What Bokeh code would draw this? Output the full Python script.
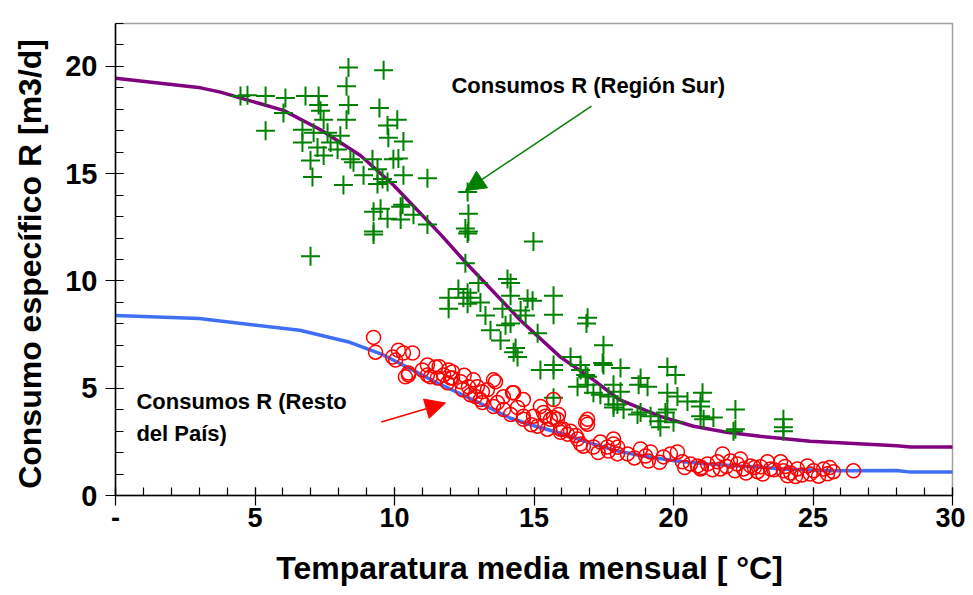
from bokeh.plotting import figure
from bokeh.models import Range1d, FixedTicker, Arrow, NormalHead, Label
from bokeh.embed import file_html
from bokeh.resources import INLINE

# ---- data ----
x_ticks = [0, 5, 10, 15, 20, 25, 30]
x_minor = list(range(0, 31))
y_ticks = [0, 5, 10, 15, 20]
y_minor = list(range(0, 23))

# fitted curve, Región Sur (purple)
sur_x = [0, 3.05, 3.76, 6.02, 7.35, 8.78, 9.96, 11.65, 12.61, 14.52, 15.95, 17.13,
         18.06, 19.53, 20.72, 21.9, 23.1, 24.9, 28.0, 28.5, 30.4]
sur_y = [19.45, 19.0, 18.8, 17.95, 17.05, 15.85, 14.47, 12.17, 10.78, 8.16, 6.45, 5.39,
         4.47, 3.69, 3.23, 2.95, 2.76, 2.53, 2.32, 2.26, 2.26]

# fitted curve, Resto del País (blue)
resto_x = [0, 3.0, 6.6, 8.4, 9.6, 10.57, 11.6, 12.72, 14.16, 15.0, 15.95, 17.13, 18.0,
           18.9, 20.1, 21.2, 22.8, 23.9, 25.7, 28.0, 28.5, 30.4]
resto_y = [8.39, 8.25, 7.70, 7.14, 6.55, 5.9, 5.2, 4.52, 3.6, 3.25, 2.9, 2.4, 2.07,
           1.84, 1.61, 1.47, 1.34, 1.24, 1.15, 1.17, 1.09, 1.09]

# observed consumption, Región Sur (green crosses)
sur_obs_x = [4.48, 4.73, 5.38, 6.09, 6.81, 7.28, 8.35, 9.61, 8.28, 8.35, 7.28, 7.35, 6.02, 9.46,
             10.1, 9.75, 8.28, 7.46, 5.38, 6.70, 7.10, 7.60, 8.06, 9.78, 10.32, 6.70, 7.24, 7.71,
             7.96, 7.46, 6.99, 8.42, 8.53, 9.21, 9.96, 10.14, 9.39, 8.89, 7.06, 9.57, 10.32, 11.18,
             9.75, 8.17, 9.39, 9.50, 10.22, 9.25, 9.75, 10.68, 10.22, 11.18, 9.25, 9.25, 6.99,
             12.62, 12.65, 12.54, 12.65, 12.62, 14.98, 10.29, 12.54, 14.05, 14.16, 13.01, 12.29,
             12.62, 11.94, 12.47, 12.72, 14.16, 14.77, 14.95, 15.7, 11.94, 12.62, 13.08, 13.26,
             13.87, 15.7, 16.92, 14.16, 14.27, 14.41, 14.34, 15.13, 15.23, 15.7, 15.7, 15.7,
             16.67, 16.92, 17.49, 16.92, 17.13, 17.67, 17.85, 16.88, 17.49, 16.31, 16.67, 17.46,
             18.1, 16.85, 16.56, 17.38, 17.85, 18.1, 18.82, 18.75, 19.07, 19.78, 20.07, 19.78,
             20.14, 20.5, 21.04, 20.97, 17.85, 18.21, 18.82, 19.18, 19.46, 19.78, 20.0, 20.97,
             21.08, 21.43, 22.22, 22.22, 23.94, 23.94, 17.99, 18.71, 19.53, 19.71, 20.97, 22.15,
             23.94, 13.44, 13.8, 14.52, 14.7, 13.98]
sur_obs_y = [18.62, 18.66, 18.62, 18.53, 18.62, 18.62, 19.95, 19.82, 19.08, 18.2, 18.2, 17.93, 17.83, 18.06,
             17.51, 17.24, 17.51, 17.51, 17.0, 17.05, 16.91, 16.91, 16.77, 16.68, 16.5, 16.45, 16.22, 16.45,
             16.13, 15.85, 15.62, 15.67, 15.53, 15.67, 15.67, 15.71, 15.21, 14.93, 14.84, 14.75, 14.93, 14.79,
             14.61, 14.47, 14.52, 13.36, 13.46, 13.23, 12.9, 13.09, 12.86, 12.63, 12.3, 12.17, 11.15,
             14.15, 13.13, 12.44, 12.3, 12.21, 11.84, 13.55, 10.83, 10.09, 9.91, 9.91, 9.63,
             9.45, 9.22, 9.22, 9.22, 9.31, 9.17, 9.08, 9.31, 8.71, 8.94, 8.99, 8.39,
             8.71, 8.43, 8.29, 8.02, 6.68, 6.45, 6.87, 7.56, 5.85, 5.85, 4.56, 6.08,
             5.85, 5.53, 6.08, 5.16, 4.79, 4.61, 4.24, 8.02, 7.0, 6.45, 6.08, 6.18,
             5.94, 5.62, 5.07, 4.7, 5.16, 4.84, 5.48, 5.16, 5.07, 5.99, 5.62, 4.79,
             4.61, 4.38, 4.79, 4.38, 4.1, 4.01, 3.87, 3.69, 3.46, 4.01, 3.41, 3.69,
             3.55, 3.64, 4.01, 3.09, 3.55, 3.18, 4.24, 3.78, 3.18, 3.87, 4.15, 3.0,
             3.0, 7.7, 7.23, 8.62, 8.39, 7.93]

# observed consumption, Resto del País (red circles)
resto_obs_x = [9.25, 9.32, 9.93, 10.14, 10.32, 10.65, 10.5, 10.39, 11.18, 11.47, 11.18, 11.54, 11.76,
               12.08, 12.01, 11.9, 12.37, 12.44, 12.83, 12.65, 12.97, 13.15, 12.9, 13.15, 13.62, 13.33,
               13.69, 13.91, 14.27, 14.62, 14.41, 14.16, 14.62, 14.98, 15.23, 15.34, 15.7, 15.59, 15.84,
               15.13, 15.48, 16.06, 16.2, 10.04, 10.5, 11.0, 11.29, 11.94, 12.08, 12.72, 13.08, 13.55,
               13.55, 14.23, 14.62, 15.41, 15.7, 15.95, 16.31, 16.92, 16.92, 16.67, 17.13, 17.38, 17.85,
               17.67, 15.88, 15.95, 16.85, 16.56, 16.77, 17.63, 17.85, 17.99, 18.35, 18.82, 19.0, 19.18,
               19.1, 19.64, 19.89, 20.14, 20.32, 20.61, 20.86, 21.22, 21.58, 21.68, 21.76, 22.04, 22.29,
               22.51, 22.76, 23.01, 23.37, 23.48, 23.84, 23.94, 24.09, 24.44, 24.8, 25.02, 25.38, 25.52,
               25.73, 26.45, 20.97, 23.12, 22.4, 24.37, 24.9,
               21.0, 21.4, 21.9, 22.2, 22.6, 22.9, 23.2, 23.6, 24.0, 24.2, 24.6, 25.2, 25.6, 20.4,
               19.5, 18.6, 18.0, 17.3, 16.5, 14.9, 13.9, 12.5, 11.6]
resto_obs_y = [7.37, 6.68, 6.45, 6.77, 6.64, 6.64, 5.71, 5.53, 6.08, 5.99, 5.62, 5.48, 5.62,
               5.76, 5.48, 5.25, 5.3, 4.93, 5.39, 5.07, 5.07, 4.84, 4.61, 4.33, 5.3, 4.93,
               4.33, 4.01, 4.79, 4.47, 4.1, 3.78, 3.55, 3.69, 4.15, 3.87, 4.47, 3.55, 3.55,
               3.23, 3.09, 3.09, 2.86, 6.31, 5.62, 5.85, 5.53, 5.85, 5.48, 4.7, 4.47, 5.39,
               4.15, 4.79, 3.69, 3.69, 3.64, 2.95, 3.0, 3.55, 3.32, 2.4, 2.26, 2.49, 2.4,
               2.07, 3.78, 3.09, 3.41, 2.63, 2.3, 2.26, 2.63, 1.94, 1.94, 2.17, 1.84, 2.03,
               1.61, 1.8, 1.94, 2.03, 1.57, 1.47, 1.38, 1.47, 1.57, 1.24, 1.94, 1.61, 1.47,
               1.24, 1.38, 1.11, 1.57, 1.24, 1.57, 1.15, 0.92, 1.24, 1.38, 1.15, 1.24, 1.01,
               1.11, 1.15, 1.24, 1.34, 1.7, 0.88, 1.0,
               1.3, 1.2, 1.35, 1.15, 1.05, 1.3, 1.0, 1.2, 1.35, 1.05, 0.95, 0.9, 1.3, 1.3,
               1.55, 1.75, 2.25, 2.0, 2.8, 3.3, 4.6, 5.6, 6.0]

FONT = "Liberation Sans"

p = figure(width=965, height=595, x_range=Range1d(0, 30), y_range=Range1d(0, 22),
           output_backend="svg", toolbar_location=None,
           min_border_left=115, min_border_right=13, min_border_top=23, min_border_bottom=100)
p.grid.visible = False
p.outline_line_color = "#a0a0a0"
p.outline_line_width = 1.5
p.background_fill_color = "white"
p.border_fill_color = "white"

for ax, ticks, minor in ((p.xaxis, x_ticks, x_minor), (p.yaxis, y_ticks, y_minor)):
    ax.ticker = FixedTicker(ticks=ticks, minor_ticks=minor)
    ax.axis_line_color = "black"
    ax.axis_line_width = 1.5
    ax.major_tick_line_color = "black"
    ax.minor_tick_line_color = "black"
    ax.major_tick_line_width = 1.2
    ax.minor_tick_line_width = 1.2
    ax.major_tick_in = 8
    ax.major_tick_out = 10
    ax.minor_tick_in = 8
    ax.minor_tick_out = 0
    ax.major_label_text_font = FONT
    ax.major_label_text_font_style = "bold"
    ax.major_label_text_color = "black"
    ax.axis_label_text_font = FONT
    ax.axis_label_text_font_style = "bold"
    ax.axis_label_text_color = "black"

p.xaxis.major_label_overrides = {0: "-"}
p.xaxis.major_label_text_font_size = "27px"
p.xaxis.major_label_standoff = 2
p.xaxis.axis_label = "Temparatura media  mensual [ °C]"
p.xaxis.axis_label_text_font_size = "32px"
p.xaxis.axis_label_standoff = 20

p.yaxis.major_label_text_font_size = "29px"
p.yaxis.major_label_standoff = 8
p.yaxis.axis_label = "Consumo específico R  [m3/d]"
p.yaxis.axis_label_text_font_size = "32px"
p.yaxis.axis_label_standoff = 14

p.line(sur_x, sur_y, line_color="#800080", line_width=3.5)
p.line(resto_x, resto_y, line_color="#3f6ff7", line_width=3.5)

p.scatter(sur_obs_x, sur_obs_y, marker="cross", size=19, line_color="#008000", line_width=2)
p.scatter(resto_obs_x, resto_obs_y, marker="circle", size=14, line_color="#ff0000",
          fill_color=None, line_width=1.5)

p.add_layout(Arrow(end=NormalHead(size=20, fill_color="#008000", line_color="#008000"),
                   x_start=17.06, y_start=18.15, x_end=12.54, y_end=14.21,
                   line_color="#008000", line_width=1.5))
p.add_layout(Arrow(end=NormalHead(size=20, fill_color="#ff0000", line_color="#ff0000"),
                   x_start=9.53, y_start=3.43, x_end=11.83, y_end=4.31,
                   line_color="#ff0000", line_width=1.5))

for txt, x, y in (("Consumos  R (Región Sur)", 12.04, 19.12),
                  ("Consumos R  (Resto", 0.75, 4.4),
                  ("del País)", 0.75, 2.87)):
    p.add_layout(Label(x=x, y=y, text=txt, text_font=FONT, text_font_style="bold",
                       text_font_size="22px", text_baseline="middle", text_align="left",
                       text_color="black"))

open("out.html", "w").write(file_html(p, INLINE))
